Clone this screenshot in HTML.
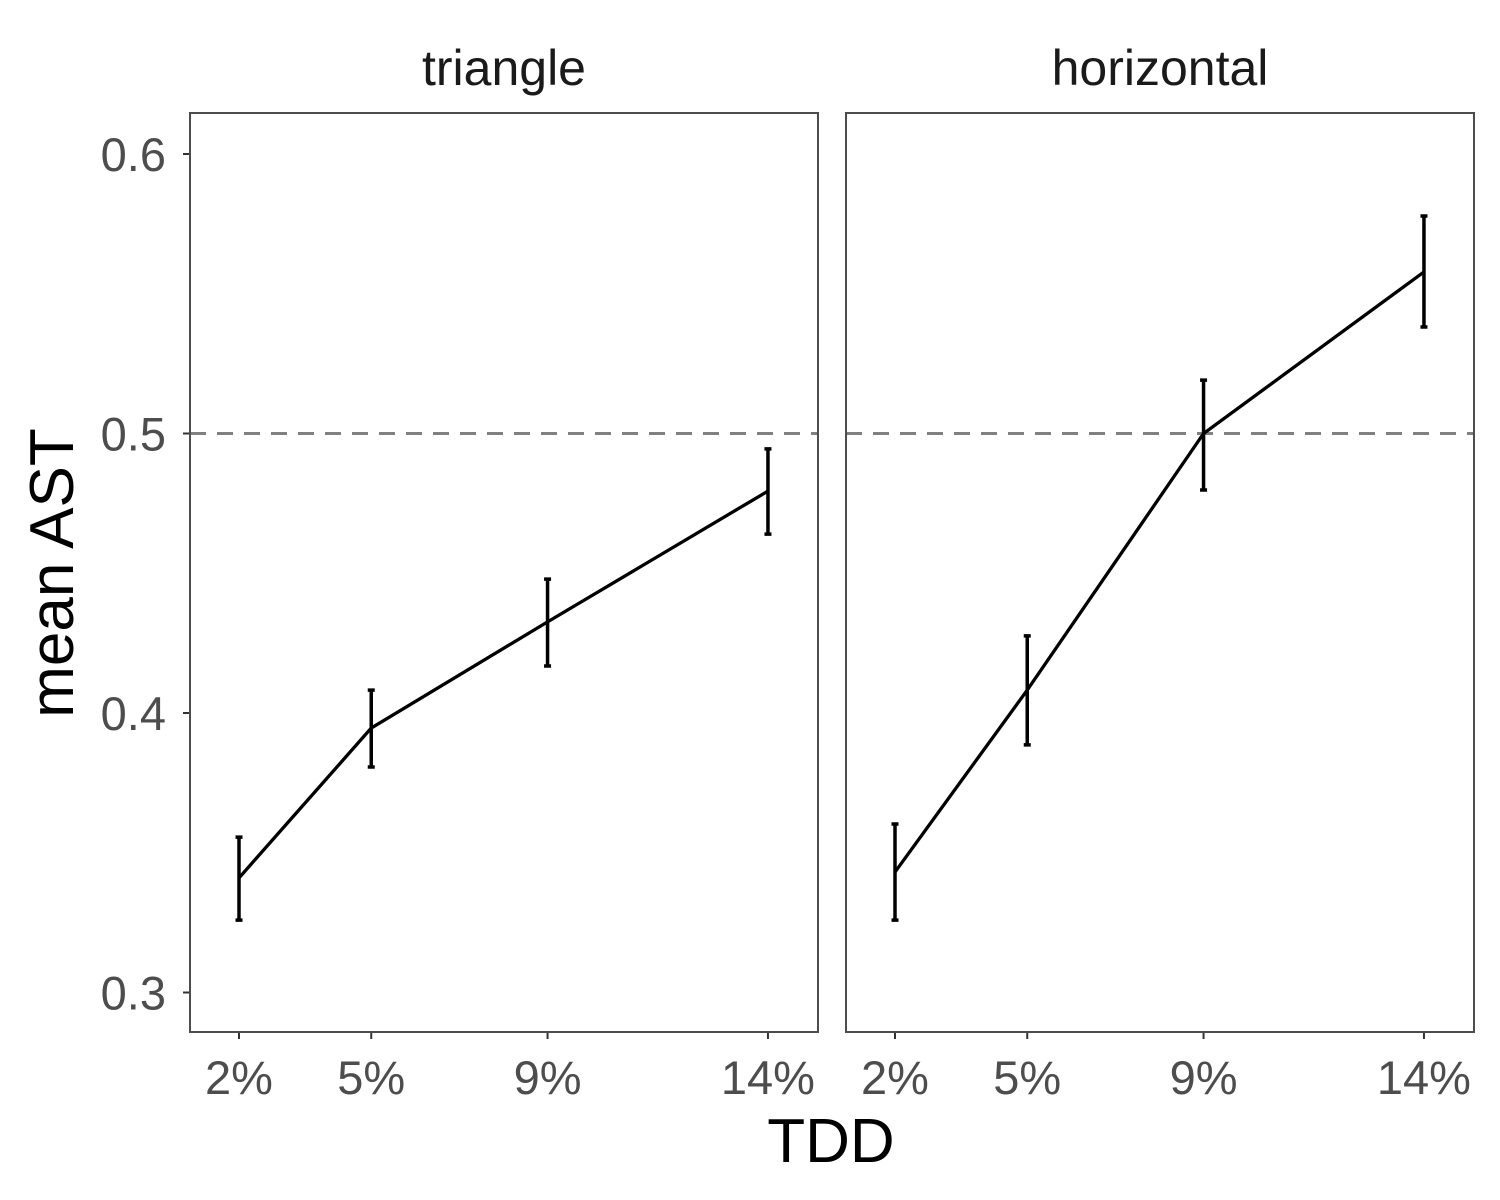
<!DOCTYPE html>
<html><head><meta charset="utf-8"><style>
html,body{margin:0;padding:0;background:#fff;}
svg{display:block;font-family:"Liberation Sans",Arial,sans-serif;}
</style></head><body>
<svg id="chart" width="1500" height="1200" viewBox="0 0 1500 1200"></svg>
<script>
const panels = ["triangle","horizontal"];
const categories = [2,5,9,14];
const tickLabels = ["2%","5%","9%","14%"];
const yTicks = [0.3,0.4,0.5,0.6];
const yTickLabels = ["0.3","0.4","0.5","0.6"];
const triangleMean = [0.341,0.3946,0.4326,0.4794];
const triangleLow  = [0.3259,0.3807,0.4168,0.4640];
const triangleHigh = [0.3556,0.4082,0.4479,0.4945];
const horizontalMean = [0.3431,0.4082,0.5,0.5578];
const horizontalLow  = [0.3259,0.3886,0.4798,0.5381];
const horizontalHigh = [0.3603,0.4276,0.5191,0.5778];
const refLine = 0.5;

const NS="http://www.w3.org/2000/svg";
const svg=document.getElementById('chart');
function mk(tag,attrs,parent){const e=document.createElementNS(NS,tag);for(const k in attrs)e.setAttribute(k,attrs[k]);(parent||svg).appendChild(e);return e;}
const plotTop=113,plotBottom=1032;
const panelLeft=[190,846],panelW=628;
function yS(v){return 154+(0.6-v)*2795;}
function xS(p,v){return panelLeft[p]+49+(v-2)*44.08;}
const series=[[triangleMean,triangleLow,triangleHigh],[horizontalMean,horizontalLow,horizontalHigh]];

yTicks.forEach((t,i)=>{
  const y=yS(t);
  const tk=mk('line',{x1:183,x2:190,y1:y,y2:y,stroke:'#333','stroke-width':2});
  
  const tx=mk('text',{x:166,y:y+17,'text-anchor':'end','font-size':47,fill:'#4d4d4d'});
  tx.textContent=yTickLabels[i];
  
});
const yt=mk('text',{x:0,y:0,'font-size':62,fill:'#000','text-anchor':'middle',transform:'translate(73,573) rotate(-90)'});
yt.textContent='mean AST';

const xt=mk('text',{x:831,y:1162,'font-size':62,fill:'#000','text-anchor':'middle'});
xt.textContent='TDD';


panels.forEach((name,p)=>{
  const g=mk('g',{});
  
  const st=mk('text',{x:panelLeft[p]+panelW/2,y:85,'text-anchor':'middle','font-size':50,fill:'#1a1a1a'},g);
  st.textContent=name;
  
  const ry=yS(refLine);
  const rl=mk('line',{x1:panelLeft[p],x2:panelLeft[p]+panelW,y1:ry,y2:ry,stroke:'#808080','stroke-width':3,'stroke-dasharray':'16,11'},g);
  
  const [m,lo,hi]=series[p];
  const pts=categories.map((c,i)=>xS(p,c)+','+yS(m[i])).join(' ');
  const pl=mk('polyline',{points:pts,fill:'none',stroke:'#000','stroke-width':3.3},g);
  
  categories.forEach((c,i)=>{
    const x=xS(p,c);
    const eb=mk('path',{d:`M${x-3.5},${yS(hi[i])}H${x+3.5}M${x},${yS(hi[i])}V${yS(lo[i])}M${x-3.5},${yS(lo[i])}H${x+3.5}`,stroke:'#000','stroke-width':3.5,fill:'none'},g);
    
    const tk=mk('line',{x1:x,x2:x,y1:plotBottom,y2:plotBottom+7,stroke:'#333','stroke-width':2},g);
    
    const tl=mk('text',{x:x,y:1094,'text-anchor':'middle','font-size':47,fill:'#4d4d4d'},g);
    tl.textContent=tickLabels[i];
    
  });
  const fr=mk('rect',{x:panelLeft[p],y:plotTop,width:panelW,height:plotBottom-plotTop,fill:'none',stroke:'#4d4d4d','stroke-width':2},g);
  
});
</script>
</body></html>
